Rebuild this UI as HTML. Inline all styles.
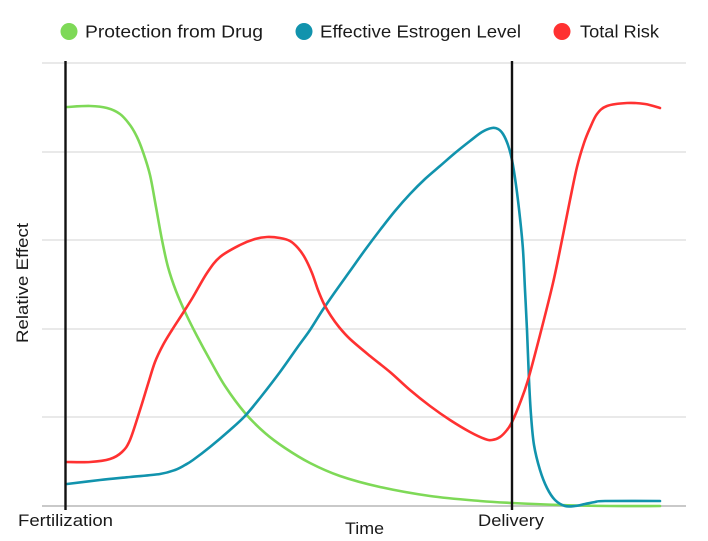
<!DOCTYPE html>
<html><head><meta charset="utf-8"><style>
html,body{margin:0;padding:0;background:#fff;}
svg{display:block;}
text{font-family:"Liberation Sans",sans-serif;fill:#1a1a1a;}
</style></head><body>
<svg width="708" height="541" viewBox="0 0 708 541" xmlns="http://www.w3.org/2000/svg">
<rect width="708" height="541" fill="#fff"/>
<!-- legend -->
<circle cx="69" cy="31.5" r="8.5" fill="#7ed957"/>
<text x="85" y="37.5" font-size="17.5" textLength="178" lengthAdjust="spacingAndGlyphs">Protection from Drug</text>
<circle cx="304" cy="31.5" r="8.5" fill="#1193ad"/>
<text x="320" y="37.5" font-size="17.5" textLength="201" lengthAdjust="spacingAndGlyphs">Effective Estrogen Level</text>
<circle cx="562" cy="31.5" r="8.5" fill="#ff3131"/>
<text x="580" y="37.5" font-size="17.5" textLength="79" lengthAdjust="spacingAndGlyphs">Total Risk</text>
<!-- grid -->
<g stroke="#e2e2e2" stroke-width="1.5">
<line x1="42" y1="63" x2="686" y2="63"/>
<line x1="42" y1="152" x2="686" y2="152"/>
<line x1="42" y1="240" x2="686" y2="240"/>
<line x1="42" y1="329" x2="686" y2="329"/>
<line x1="42" y1="417" x2="686" y2="417"/>
</g>
<line x1="42" y1="506" x2="686" y2="506" stroke="#c9c9c9" stroke-width="2"/>
<!-- series -->
<g fill="none" stroke-width="2.6" stroke-linejoin="round" stroke-linecap="round">
<path class="cr" stroke="#7ed957" d="M67,107 L90,106 L107,108 L120,114 L130,125 L137,137 L143,152 L150,175 L156,207 L162,240 L168,267 L176,291 L186,314 L197,336 L210,360 L225,386 L245,413 L265,433 L285,448 L310,463 L340,476 L380,487 L430,496 L480,501 L512,503 L560,505 L610,506 L660,506"/>
<path class="cr" stroke="#1193ad" d="M67,484 L100,480 L130,477 L160,474 L175,470 L185,465 L193,460 L210,447 L230,430 L245,416 L260,398 L280,372 L297,348 L310,330 L322,311 L335,292 L350,271 L365,250 L380,230 L395,211 L410,194 L425,179 L440,166 L455,153 L470,141 L482,132 L492,128 L498,129 L503,134 L508,145 L512,160 L516,185 L520,218 L523,250 L525,290 L527,330 L529,380 L531,415 L534,445 L540,470 L547,488 L555,500 L565,506 L575,506 L585,504 L595,502 L605,501 L660,501"/>
<path class="cr" stroke="#ff3131" d="M67,462 L90,462 L110,459 L122,452 L130,440 L140,410 L148,384 L155,362 L163,345 L172,330 L183,313 L193,297 L207,273 L220,257 L240,245 L255,239 L267,237 L280,238 L290,241 L298,248 L305,258 L312,273 L318,290 L324,304 L331,316 L339,327 L350,339 L370,356 L390,372 L410,390 L430,406 L450,420 L470,432 L485,439 L492,440 L500,437 L507,430 L512,422 L520,403 L528,380 L540,335 L553,283 L562,240 L570,200 L577,167 L584,143 L590,128 L597,114 L607,106 L627,103 L645,104 L660,108"/>
</g>
<!-- vertical markers -->
<line x1="65.5" y1="61" x2="65.5" y2="510" stroke="#111" stroke-width="2.4"/>
<line x1="512" y1="61" x2="512" y2="510" stroke="#111" stroke-width="2.4"/>
<!-- axis labels -->
<text x="18" y="526" font-size="17" textLength="95" lengthAdjust="spacingAndGlyphs">Fertilization</text>
<text x="345" y="534" font-size="17" textLength="39" lengthAdjust="spacingAndGlyphs">Time</text>
<text x="478" y="526" font-size="17" textLength="66" lengthAdjust="spacingAndGlyphs">Delivery</text>
<text transform="translate(28,283) rotate(-90)" text-anchor="middle" font-size="17" textLength="120" lengthAdjust="spacingAndGlyphs">Relative Effect</text>
</svg>
<script>
(function(){
  var paths=document.querySelectorAll('path.cr');
  for(var k=0;k<paths.length;k++){
    var p=paths[k];
    var nums=p.getAttribute('d').replace(/[ML]/g,' ').trim().split(/[\s,]+/).map(Number);
    var pts=[];
    for(var i=0;i<nums.length;i+=2)pts.push([nums[i],nums[i+1]]);
    var d='M'+pts[0][0]+','+pts[0][1];
    for(var i=0;i<pts.length-1;i++){
      var p0=pts[i>0?i-1:i],p1=pts[i],p2=pts[i+1],p3=pts[i+2<pts.length?i+2:i+1];
      var c1x=p1[0]+(p2[0]-p0[0])/6,c1y=p1[1]+(p2[1]-p0[1])/6;
      var c2x=p2[0]-(p3[0]-p1[0])/6,c2y=p2[1]-(p3[1]-p1[1])/6;
      d+=' C'+c1x.toFixed(2)+','+c1y.toFixed(2)+' '+c2x.toFixed(2)+','+c2y.toFixed(2)+' '+p2[0]+','+p2[1];
    }
    p.setAttribute('d',d);
  }
})();
</script>
</body></html>
